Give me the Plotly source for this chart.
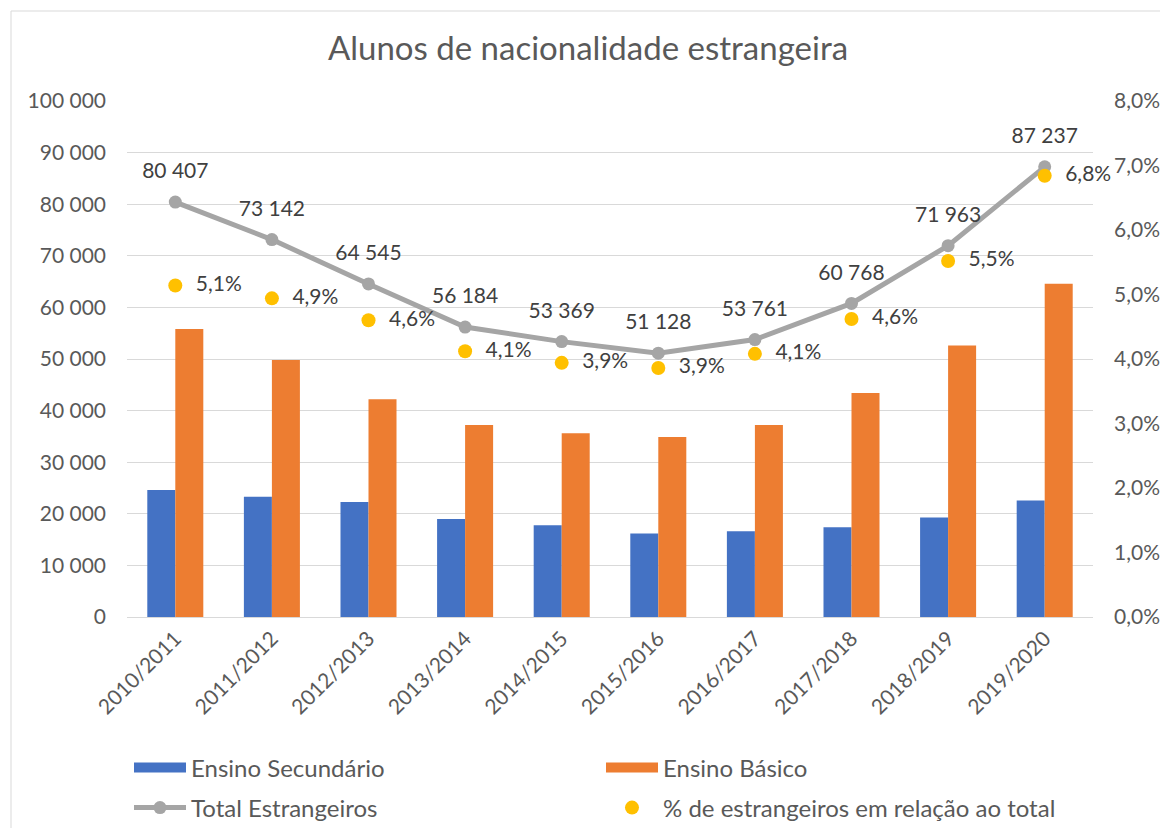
import plotly.graph_objects as go

# ---------- Data ----------
anos = ["2010/2011", "2011/2012", "2012/2013", "2013/2014", "2014/2015",
        "2015/2016", "2016/2017", "2017/2018", "2018/2019", "2019/2020"]
ensino_secundario = [24600, 23300, 22300, 19000, 17800, 16200, 16600, 17400, 19300, 22600]
ensino_basico = [55800, 49800, 42200, 37200, 35600, 34900, 37200, 43400, 52600, 64600]
total_estrangeiros = [80407, 73142, 64545, 56184, 53369, 51128, 53761, 60768, 71963, 87237]
pct_estrangeiros = [0.0514, 0.0494, 0.0460, 0.0412, 0.0394, 0.0386, 0.0408, 0.0462, 0.0552, 0.0684]

FONT = "Lato, Calibri, sans-serif"
GREY_TXT = "#595959"
LABEL_FONT = dict(family=FONT, size=21, color="#404040")

BLUE, ORANGE, GREY, YELLOW = "#4472C4", "#ED7D31", "#A5A5A5", "#FFC000"

# ---------- Traces ----------
traces = [
    go.Bar(x=anos, y=ensino_secundario, name="Ensino Secundário",
           marker=dict(color=BLUE, line=dict(width=0)), showlegend=False),
    go.Bar(x=anos, y=ensino_basico, name="Ensino Básico",
           marker=dict(color=ORANGE, line=dict(width=0)), showlegend=False),
    go.Scatter(x=anos, y=total_estrangeiros, name="Total Estrangeiros",
               mode="lines+markers", legend="legend2",
               line=dict(color=GREY, width=5), marker=dict(color=GREY, size=13)),
    # labels of the total line (transparent markers just to push the text up)
    go.Scatter(x=anos, y=total_estrangeiros, mode="markers+text", showlegend=False,
               marker=dict(color="rgba(0,0,0,0)", size=28),
               texttemplate="%{y:,d}", textposition="top center",
               textfont=LABEL_FONT, hoverinfo="skip", cliponaxis=False),
    go.Scatter(x=anos, y=pct_estrangeiros, name="% de estrangeiros em relação ao total",
               mode="markers+text", yaxis="y2", legend="legend2",
               marker=dict(color=YELLOW, size=14),
               texttemplate="  %{y:.1%}", textposition="middle right",
               textfont=LABEL_FONT, cliponaxis=False),
    # legend entries for the bars (wide rectangles like the original)
    go.Scatter(x=[None], y=[None], mode="lines", name="Ensino Secundário",
               line=dict(color=BLUE, width=14), legend="legend"),
    go.Scatter(x=[None], y=[None], mode="lines", name="Ensino Básico",
               line=dict(color=ORANGE, width=14), legend="legend"),
]

# ---------- Layout ----------
# the page body adds an 8px margin, so figure coords = screen coords - 8
OFF = 8
W, H = 1168 - OFF, 836 - 2 * OFF
ML, MT = 127 - OFF, 101 - OFF
MR = W - (1093 - OFF)
MB = H - (617 - OFF)
pw, ph = W - ML - MR, H - MT - MB


def px_x(sx):
    return (sx - OFF - ML) / pw


def px_y(sy):
    return 1 - (sy - OFF - MT) / ph


legend_common = dict(
    orientation="h", xanchor="left", yanchor="middle",
    x=px_x(129),
    entrywidth=405, entrywidthmode="pixels", itemwidth=52,
    bgcolor="rgba(0,0,0,0)",
    font=dict(family=FONT, size=24, color=GREY_TXT),
    traceorder="normal",
)

fig = go.Figure(data=traces)
fig.update_layout(
    width=W, height=H,
    margin=dict(l=ML, r=MR, t=MT, b=MB, autoexpand=False),
    paper_bgcolor="white", plot_bgcolor="white",
    separators=", ",
    title=dict(text="Alunos de nacionalidade estrangeira", x=0.5, xanchor="center",
               y=1 - (48 - OFF) / H, yanchor="middle",
               font=dict(family=FONT, size=33, color=GREY_TXT)),
    barmode="group", bargap=0.42, bargroupgap=0,
    xaxis=dict(range=[-0.5, len(anos) - 0.5],
               tickangle=-45, tickfont=dict(family=FONT, size=21, color=GREY_TXT),
               showgrid=False, ticks="", automargin=False,
               showline=True, linecolor="#D9D9D9", linewidth=1),
    yaxis=dict(range=[0, 100000], dtick=10000, tickformat=",d",
               tickfont=dict(family=FONT, size=21, color=GREY_TXT),
               gridcolor="#D9D9D9", gridwidth=1, zeroline=False, ticks="",
               ticklabelstandoff=20, automargin=False),
    yaxis2=dict(range=[0, 0.08], dtick=0.01, tickformat=".1%",
                tickfont=dict(family=FONT, size=21, color=GREY_TXT),
                overlaying="y", side="right", showgrid=False, zeroline=False,
                ticks="", ticklabelstandoff=20, automargin=False),
    showlegend=True,
    legend=dict(legend_common, y=px_y(768)),
    legend2=dict(legend_common, y=px_y(808)),
    shapes=[dict(type="rect", xref="paper", yref="paper",
                 x0=px_x(11), x1=px_x(1190),
                 y0=px_y(900), y1=px_y(11),
                 line=dict(color="#D9D9D9", width=1), layer="below")],
)

fig.write_html("out.html")
